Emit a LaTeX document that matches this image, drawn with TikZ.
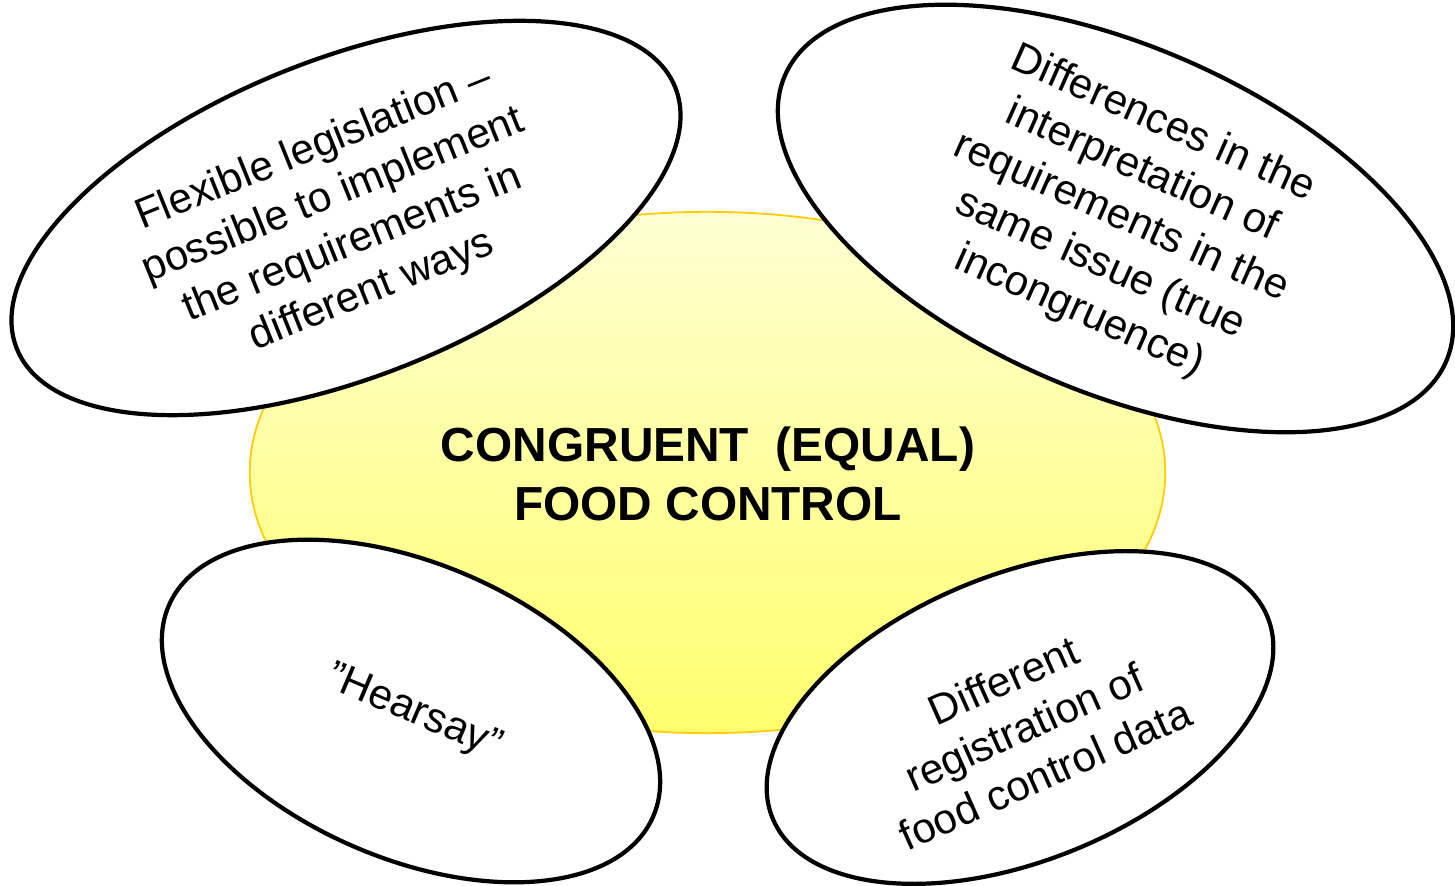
\documentclass[tikz,border=0pt]{standalone}
\usepackage{fontspec}
\setmainfont{Liberation Sans}
\usetikzlibrary{shapes.geometric}
\definecolor{paleyellow}{RGB}{255,255,210}
\definecolor{deepyellow}{RGB}{255,255,110}
\definecolor{rimyellow}{RGB}{255,204,0}
\tikzset{
  bubble/.style={ellipse, draw=black, line width=1.2pt, fill=white, inner sep=0pt},
  bubbletext/.style={align=center, font=\fontsize{12}{14.6}\selectfont}
}

\begin{document}
\begin{tikzpicture}[x=0.01cm, y=-0.01cm]
  \useasboundingbox (0,0) rectangle (1455,886);

  % Central yellow ellipse
  \node[ellipse, draw=rimyellow, line width=0.5pt, top color=paleyellow, bottom color=deepyellow,
        minimum width=9.15cm, minimum height=5.21cm, inner sep=0pt] (core) at (707.5,472.5) {};

  % Surrounding bubbles
  \node[bubble, minimum width=7.08cm, minimum height=3.18cm, rotate=21.6] (flex) at (346,218) {};
  \node[bubbletext, rotate=22] (flextext) at (343,220)
    {Flexible legislation –\\possible to implement\\the requirements in\\different ways};

  \node[bubble, minimum width=7.2cm, minimum height=3.46cm, rotate=-23.4] (diff) at (1115.5,218.5) {};
  \node[bubbletext, rotate=-24] (difftext) at (1121,218)
    {Differences in the\\interpretation of\\requirements in the\\same issue (true\\incongruence)};

  \node[bubble, minimum width=5.28cm, minimum height=2.94cm, rotate=-23.6] (hear) at (411,711) {};
  \node[bubbletext, rotate=-23] (heartext) at (414,713) {”Hearsay”};

  \node[bubble, minimum width=5.34cm, minimum height=2.86cm, rotate=22.1] (regis) at (1020,717.5) {};
  \node[bubbletext, rotate=24] (registext) at (1024,727)
    {Different\\registration of\\food control data};

  % Title
  \node[align=center, font=\bfseries\fontsize{13.6}{17}\selectfont] (title) at (708,474)
    {CONGRUENT\ \ (EQUAL)\\FOOD CONTROL};
\end{tikzpicture}
\end{document}
